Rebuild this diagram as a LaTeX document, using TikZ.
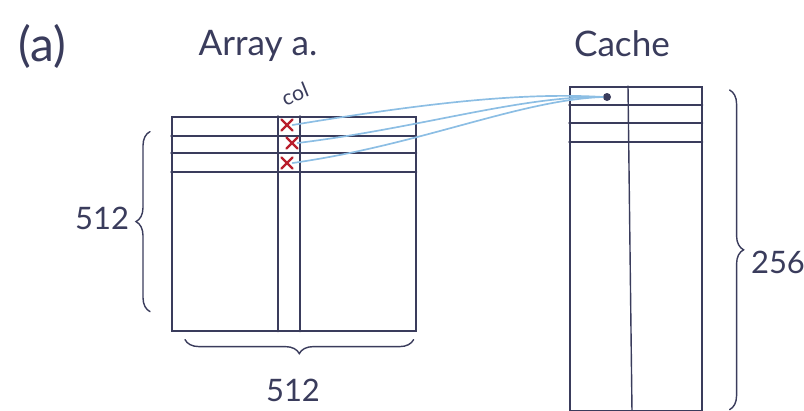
\documentclass[tikz,border=0pt]{standalone}
\usepackage{fontspec}
\setmainfont{Lato}
\usetikzlibrary{positioning,shapes.misc,decorations.pathreplacing,calc}
\definecolor{ink}{RGB}{58,60,92}
\definecolor{wire}{RGB}{140,190,228}
\definecolor{mark}{RGB}{185,30,45}

\begin{document}
\begin{tikzpicture}[x=0.025cm,y=-0.025cm,line cap=round, every node/.style={text=ink}]
\tikzstyle{box}=[draw=ink,line width=1.1pt,inner sep=0pt]
\tikzstyle{grid}=[draw=ink,line width=1pt]
\tikzstyle{miss}=[draw=mark,cross out,line width=1.6pt,minimum size=0.22cm,inner sep=0pt]
\tikzstyle{link}=[draw=wire,line width=1.2pt]
\tikzstyle{curly}=[draw=ink,line width=1pt,decorate,decoration={brace,amplitude=0.35cm}]
\useasboundingbox (0,0) rectangle (804,410);
% titles
\node[font=\fontsize{34}{38}\selectfont] (tag) at (42,46) {(a)};
\node[font=\fontsize{25}{30}\selectfont] (atitle) at (258,46) {Array a.};
\node[font=\fontsize{25}{30}\selectfont] (ctitle) at (622,44) {Cache};
% array a
\node[box,anchor=north west,minimum width=6.1cm,minimum height=5.35cm] (arr) at (171,116) {};
\foreach \y in {136,153,172}
  \draw[grid] (arr.west |- 0,\y) -- (arr.east |- 0,\y);
\foreach \x in {278,300}
  \draw[grid] (arr.north -| \x,0) -- (arr.south -| \x,0);
\node[font=\fontsize{15}{17}\selectfont,rotate=22,inner sep=0pt] (col) at (295,94) {col};
% cache
\node[box,anchor=north west,minimum width=3.3cm,minimum height=8.1cm] (cache) at (569,86) {};
\foreach \y in {105,123,142}
  \draw[grid] (cache.west |- 0,\y) -- (cache.east |- 0,\y);
\draw[grid] (cache.north -| 628,0) -- (cache.south -| 632,0);
\node[circle,fill=ink,inner sep=0pt,minimum size=0.2cm] (blk) at (607,97) {};
% misses
\node[miss] (m1) at (287,125) {};
\node[miss] (m2) at (292,143) {};
\node[miss] (m3) at (287,163) {};
\draw[link] (m1.east) .. controls (420,104) and (520,92) .. (blk.west);
\draw[link] (m2.east) .. controls (420,128) and (520,96) .. (blk.west);
\draw[link] (m3.east) .. controls (420,145) and (520,100) .. (blk.west);
% sizes
\draw[curly] ($(arr.south west)+(-21,-20)$) -- ++(0,-180);
\node[font=\fontsize{22}{26}\selectfont,anchor=east] (rows) at (134,218) {512};
\draw[curly] ($(arr.south east)+(-3,8)$) -- ($(arr.south west)+(14,8)$);
\node[font=\fontsize{22}{26}\selectfont] (cols) at (293,390) {512};
\draw[curly] ($(cache.north east)+(27,4)$) -- ($(cache.south east)+(27,-2)$);
\node[font=\fontsize{22}{26}\selectfont] (lines) at (778,262) {256};
\end{tikzpicture}
\end{document}
